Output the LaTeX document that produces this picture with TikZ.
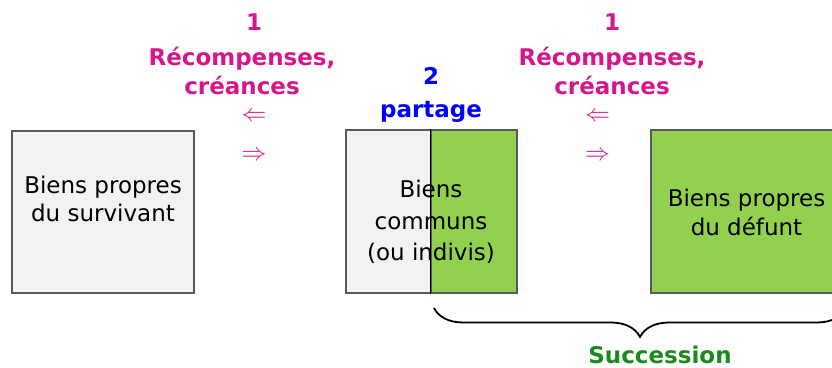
\documentclass[tikz,border=0pt]{standalone}
\usepackage{fontspec}
\setmainfont{DejaVu Sans}
\usetikzlibrary{calc,decorations.pathreplacing}
\definecolor{rose}{HTML}{D6168C}
\definecolor{vert}{HTML}{92D050}
\definecolor{vertfonce}{HTML}{1A8A1A}
\definecolor{gris}{HTML}{F2F2F2}
\definecolor{bord}{HTML}{595959}
\begin{document}
\begin{tikzpicture}[x=1pt,y=1pt]
        \tikzstyle{every node}=[inner sep=0pt, align=center, font=\fontsize{23}{28.5}\selectfont]
        \tikzstyle{boite}=[draw=bord, line width=1.2pt, minimum height=163pt]
        \tikzstyle{etiq}=[font=\fontsize{23}{29}\selectfont\bfseries]
        \tikzstyle{fleche}=[rose, font=\fontsize{29}{29}\selectfont]
        \useasboundingbox (0,0) rectangle (832,367);

            \node[boite, fill=gris, minimum width=182pt, minimum height=162pt] (S1) at (103,155) {};
            \node[boite, fill=gris, minimum width=85pt] (C1) at (388.5,155.5) {};
            \node[boite, fill=vert, minimum width=86pt] (C2) at (474,155.5) {};
            \node[boite, fill=vert, minimum width=195pt] (D1) at (748.5,155.5) {};
            \draw[line width=1.5pt] (C2.north west) -- (C2.south west);

            \node (L1) at (S1) [yshift=13pt] {Biens propres\\du survivant};
            \node[font=\fontsize{23}{31.5}\selectfont] (L2) at (431,145) {Biens\\communs\\(ou indivis)};
            \node (L3) at ($(D1)+(-2,-1)$) {Biens propres\\du défunt};

            \node[rose, etiq] (N1) at (254,345) {1};
            \node[rose, etiq] (R1) at (242,296) {Récompenses,\\créances};
            \node[fleche] (F1) at (254,250) {$\Leftarrow$};
            \node[fleche] (F2) at ($(F1)+(0,-38.5)$) {$\Rightarrow$};

            \node[blue, etiq] (N2) at (431,291) {2};
            \node[blue, etiq] (P1) at (431,255) {partage};

            \node[rose, etiq] (N3) at (612,345) {1};
            \node[rose, etiq] (R2) at (612,296) {Récompenses,\\créances};
            \node[fleche] (F3) at (597.5,250) {$\Leftarrow$};
            \node[fleche] (F4) at ($(F3)+(0,-38.5)$) {$\Rightarrow$};

            \coordinate (B1) at (434,59);
            \coordinate (B2) at (846,59);
            \draw[decorate, decoration={brace, mirror, amplitude=29pt}, line width=1.8pt] (B1) -- (B2);
            \node[vertfonce, etiq] (T1) at (660,12) {Succession};

        \end{tikzpicture}
\end{document}
